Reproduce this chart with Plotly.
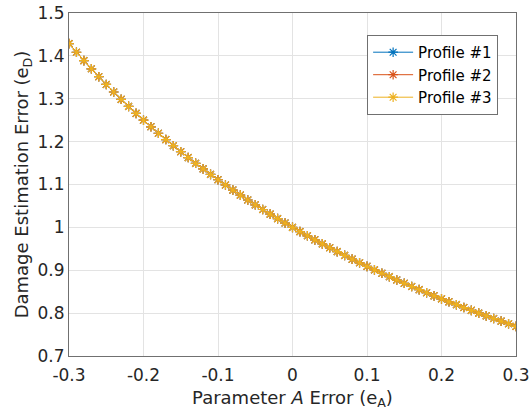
import plotly.graph_objects as go

param_a_error = [-0.30, -0.29, -0.28, -0.27, -0.26, -0.25, -0.24, -0.23, -0.22, -0.21,
                 -0.20, -0.19, -0.18, -0.17, -0.16, -0.15, -0.14, -0.13, -0.12, -0.11,
                 -0.10, -0.09, -0.08, -0.07, -0.06, -0.05, -0.04, -0.03, -0.02, -0.01,
                 0.00, 0.01, 0.02, 0.03, 0.04, 0.05, 0.06, 0.07, 0.08, 0.09,
                 0.10, 0.11, 0.12, 0.13, 0.14, 0.15, 0.16, 0.17, 0.18, 0.19,
                 0.20, 0.21, 0.22, 0.23, 0.24, 0.25, 0.26, 0.27, 0.28, 0.29, 0.30]

damage_error = [1.4286, 1.4085, 1.3889, 1.3699, 1.3514, 1.3333, 1.3158, 1.2987, 1.2821, 1.2658,
                1.2500, 1.2346, 1.2195, 1.2048, 1.1905, 1.1765, 1.1628, 1.1494, 1.1364, 1.1236,
                1.1111, 1.0989, 1.0870, 1.0753, 1.0638, 1.0526, 1.0417, 1.0309, 1.0204, 1.0101,
                1.0000, 0.9901, 0.9804, 0.9709, 0.9615, 0.9524, 0.9434, 0.9346, 0.9259, 0.9174,
                0.9091, 0.9009, 0.8929, 0.8850, 0.8772, 0.8696, 0.8621, 0.8547, 0.8475, 0.8403,
                0.8333, 0.8264, 0.8197, 0.8130, 0.8065, 0.8000, 0.7937, 0.7874, 0.7813, 0.7752, 0.7692]

profile_1 = damage_error
profile_2 = damage_error
profile_3 = damage_error

series_names = ["Profile #1", "Profile #2", "Profile #3"]
series_values = [profile_1, profile_2, profile_3]
colors = ["#0072BD", "#D95319", "#EDB120"]

x_ticks = [-0.3, -0.2, -0.1, 0, 0.1, 0.2, 0.3]
x_tick_labels = ["-0.3", "-0.2", "-0.1", "0", "0.1", "0.2", "0.3"]
y_ticks = [0.7, 0.8, 0.9, 1.0, 1.1, 1.2, 1.3, 1.4, 1.5]
y_tick_labels = ["0.7", "0.8", "0.9", "1", "1.1", "1.2", "1.3", "1.4", "1.5"]

FONT = "DejaVu Sans, Verdana, sans-serif"
TXT = "#262626"

fig = go.Figure()
for name, vals, c in zip(series_names, series_values, colors):
    fig.add_trace(go.Scatter(
        x=param_a_error, y=vals, name=name, mode="lines+markers",
        line=dict(color=c, width=1),
        marker=dict(symbol="asterisk-open", size=8, color=c, line=dict(color=c, width=1.2)),
    ))

axis_common = dict(
    showline=True, linecolor="#707070", linewidth=1, mirror=True,
    ticks="",
    showgrid=True, gridcolor="#E3E3E3", gridwidth=1,
    zeroline=False, automargin=False,
    tickfont=dict(family=FONT, size=17, color=TXT),
)

fig.update_layout(
    width=532, height=412,
    margin=dict(l=69, r=16, t=13, b=56),
    paper_bgcolor="white", plot_bgcolor="white",
    font=dict(family=FONT, size=17, color=TXT),
    xaxis=dict(range=[-0.3, 0.3], tickvals=x_ticks, ticktext=x_tick_labels,
               ticklabelstandoff=4,
               title=dict(text="Parameter <i>A</i> Error (e<sub>A</sub>)", standoff=6,
                          font=dict(family=FONT, size=18, color=TXT)),
               **axis_common),
    yaxis=dict(range=[0.7, 1.5], tickvals=y_ticks, ticktext=y_tick_labels,
               title=dict(text="Damage Estimation Error (e<sub>D</sub>)", standoff=4,
                          font=dict(family=FONT, size=18, color=TXT)),
               **axis_common),
    legend=dict(x=0.96, y=0.936, xanchor="right", yanchor="top",
                bgcolor="white", bordercolor="#707070", borderwidth=1,
                font=dict(family=FONT, size=15, color="#000000"),
                tracegroupgap=0, itemwidth=40),
    showlegend=True,
)

fig.write_html("out.html")
